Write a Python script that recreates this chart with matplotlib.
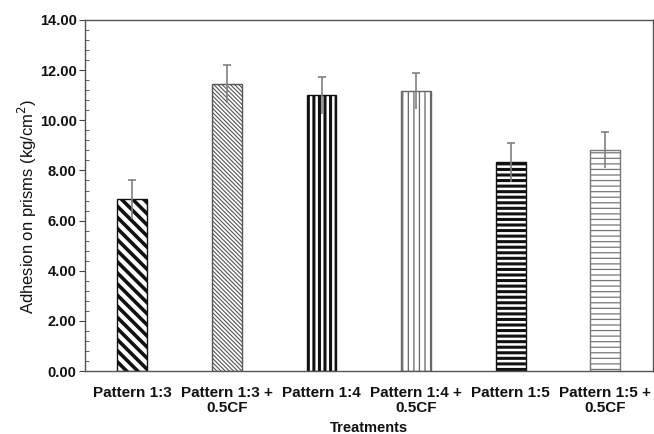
import matplotlib.pyplot as plt
import numpy as np
from matplotlib.ticker import MultipleLocator, FormatStrFormatter

plt.rcParams["font.family"] = ["Liberation Sans", "DejaVu Sans"]

treatments = ["Pattern 1:3", "Pattern 1:3 +\n0.5CF", "Pattern 1:4",
              "Pattern 1:4 +\n0.5CF", "Pattern 1:5", "Pattern 1:5 +\n0.5CF"]
adhesion = [6.85, 11.44, 11.00, 11.15, 8.32, 8.83]
errors = [0.77, 0.75, 0.74, 0.72, 0.77, 0.72]

hatches = ["\\" * 3, "\\" * 8, "|||", "|||", "---", "---"]
hatch_colors = ["#111111", "#555555", "#111111", "#666666", "#111111", "#777777"]
hatch_widths = [2.6, 0.8, 2.2, 0.9, 2.2, 0.9]

fig = plt.figure(figsize=(6.54, 4.34), dpi=100)
ax = fig.add_axes([0.130, 0.145, 0.868, 0.809])

x = np.arange(len(treatments))
for i in range(len(treatments)):
    with plt.rc_context({"hatch.linewidth": hatch_widths[i]}):
        b = ax.bar(x[i], adhesion[i], width=0.316, color="white",
                   edgecolor=hatch_colors[i], hatch=hatches[i], linewidth=1.0)
    for p in b:
        if hasattr(p, "set_hatch_linewidth"):
            p.set_hatch_linewidth(hatch_widths[i])

# error bars: stem through the bar top, cap on the upper end only
ax.errorbar(x, adhesion, yerr=errors, fmt="none", ecolor="#808080",
            elinewidth=1.2, capsize=0)
ax.scatter(x, np.array(adhesion) + np.array(errors), marker="_", s=30,
           color="#808080", linewidths=1.2, zorder=3)

ax.set_xlim(-0.5, len(treatments) - 0.5)
ax.set_ylim(0, 14)
ax.yaxis.set_major_locator(MultipleLocator(2))
ax.yaxis.set_minor_locator(MultipleLocator(0.4))
ax.yaxis.set_major_formatter(FormatStrFormatter("%.2f"))
ax.tick_params(axis="y", which="major", direction="out", length=4,
               color="#444444", labelsize=10.5, pad=2)
ax.tick_params(axis="y", which="minor", direction="in", length=3,
               color="#444444")
ax.tick_params(axis="x", length=0, labelsize=11, pad=11)
ax.set_xticks(x)
ax.set_xticklabels(treatments, fontweight="bold", color="#111111",
                   linespacing=1.1)
for lab in ax.get_yticklabels():
    lab.set_fontweight("bold")
    lab.set_color("#111111")

for s in ax.spines.values():
    s.set_color("#555555")
    s.set_linewidth(1.0)

ax.set_ylabel("Adhesion on prisms (kg/cm$^2$)", fontsize=12, color="#111111")
ax.yaxis.set_label_coords(-0.081, 0.47)
ax.set_xlabel("Treatments", fontsize=10.5, fontweight="bold", color="#111111",
              labelpad=4)

fig.savefig("out.png", dpi=100)
